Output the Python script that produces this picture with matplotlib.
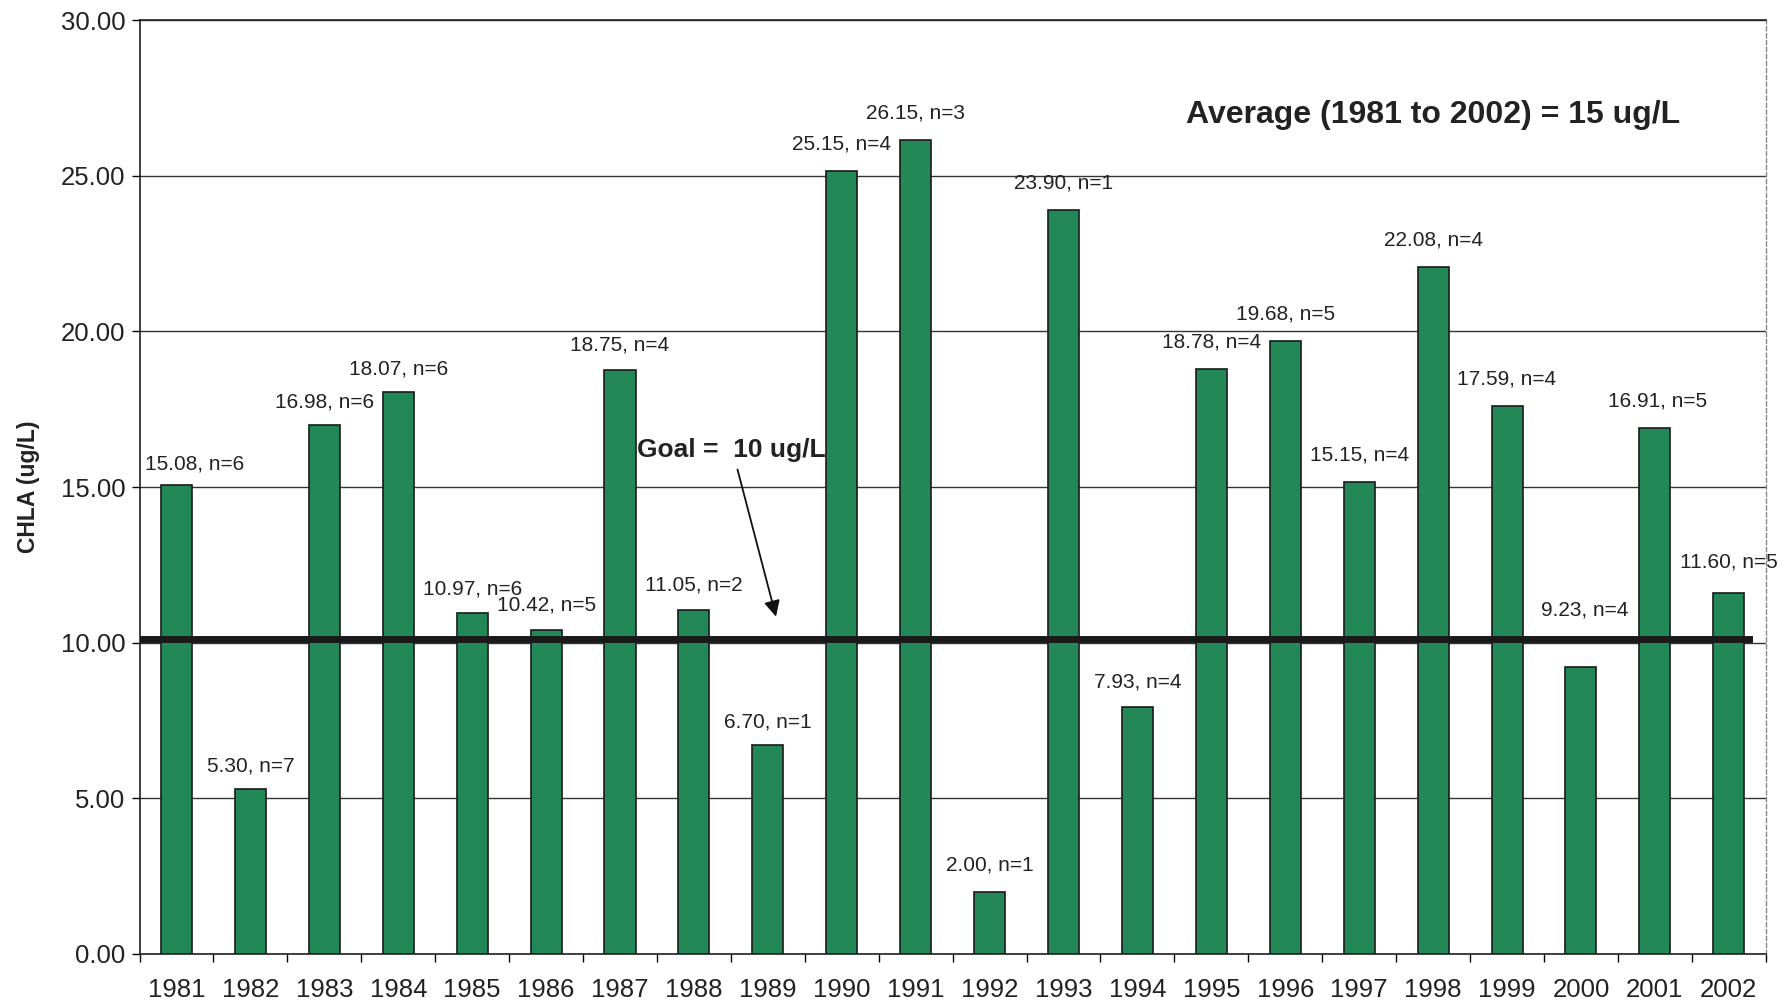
import matplotlib
matplotlib.use("Agg")
import matplotlib.pyplot as plt
import numpy as np

plt.rcParams['font.family'] = ['Liberation Sans', 'DejaVu Sans']

years = [str(y) for y in range(1981, 2003)]
chla = [15.08, 5.30, 16.98, 18.07, 10.97, 10.42, 18.75, 11.05, 6.70, 25.15, 26.15,
        2.00, 23.90, 7.93, 18.78, 19.68, 15.15, 22.08, 17.59, 9.23, 16.91, 11.60]
n_samples = [6, 7, 6, 6, 6, 5, 4, 2, 1, 4, 3, 1, 1, 4, 4, 5, 4, 4, 4, 4, 5, 5]
goal = 10.0
average_text = "Average (1981 to 2002) = 15 ug/L"
goal_text = "Goal =  10 ug/L"
yticks = [0, 5, 10, 15, 20, 25, 30]

# label offsets in points (dx, dy) for labels that were moved in the original
label_offsets = {0: (13, 15), 1: (0, 16.5), 2: (0, 17), 3: (0, 16.5), 4: (0, 17),
                 5: (0, 18), 6: (0, 18), 7: (0, 18), 8: (0, 17), 13: (0, 18),
                 19: (2.5, 41), 20: (2, 19), 21: (0, 22)}
default_offset = (0, 19.5)

fig = plt.figure(figsize=(17.89, 10.08), dpi=100)
ax = fig.add_axes([0.078, 0.0536, 0.909, 0.9264])

x = np.arange(len(years))
bar_color = '#218856'
ax.bar(x, chla, width=0.42, color=bar_color, edgecolor='#1a1a1a', linewidth=1.2, zorder=3)

ax.set_xlim(-0.5, len(years) - 0.5)
ax.set_ylim(0, 30)
ax.set_yticks(yticks)
ax.set_yticklabels([f"{v:.2f}" for v in yticks], fontsize=18.5, color='#222222')
ax.set_xticks(x)
ax.set_xticklabels(years, fontsize=18.5, color='#222222')
ax.tick_params(axis='x', length=0, pad=17)
ax.tick_params(axis='y', length=6, width=1, direction='out', pad=4)
ax.set_xticks(np.arange(-0.5, len(years), 1), minor=True)
ax.tick_params(axis='x', which='minor', length=6, width=1, direction='out')

ax.yaxis.grid(True, color='#333333', linewidth=1.0, zorder=0)
ax.set_axisbelow(True)
for side in ['left', 'bottom', 'top']:
    ax.spines[side].set_color('#222222')
    ax.spines[side].set_linewidth(1.2)
ax.spines['right'].set_color('#888888')
ax.spines['right'].set_linestyle((0, (3, 2)))
ax.spines['right'].set_linewidth(1.0)

ax.set_ylabel("CHLA (ug/L)", fontsize=16.5, fontweight='bold', labelpad=15, color='#222222')

# goal line
ax.plot([-0.5, len(years) - 0.72], [goal + 0.12, goal + 0.12], color='#1a1a1a', linewidth=5, zorder=4)

# data labels
for i, (v, n) in enumerate(zip(chla, n_samples)):
    dx, dy = label_offsets.get(i, default_offset)
    ax.annotate(f"{v:.2f}, n={n}", xy=(x[i], v), xytext=(dx, dy), textcoords='offset points',
                ha='center', va='center', fontsize=15, color='#222222', zorder=5)

ax.text(17.0, 26.95, average_text, ha='center', va='center', fontsize=23,
        fontweight='bold', color='#222222')

ax.text(7.5, 16.2, goal_text, ha='center', va='center', fontsize=19,
        fontweight='bold', color='#222222', zorder=6)
ax.annotate("", xy=(8.12, 10.75), xytext=(7.58, 15.65),
            arrowprops=dict(arrowstyle='-|>', color='#111111', lw=1.3,
                            mutation_scale=24), zorder=6)

fig.savefig("out.png", dpi=100)
